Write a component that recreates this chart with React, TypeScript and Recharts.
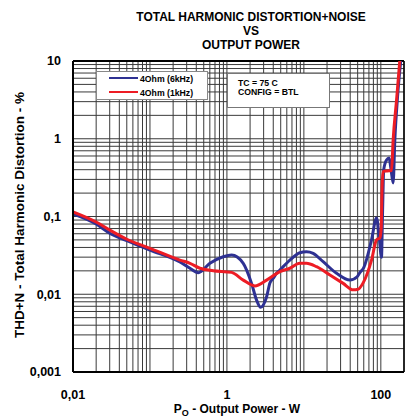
import React from 'react';
import { LineChart, Line, XAxis, YAxis, CartesianGrid, ReferenceLine } from 'recharts';

// Output power (W) / THD+N (%)
const bluePower = [0.01, 0.02, 0.03, 0.05, 0.1, 0.245, 0.331, 0.424, 0.601, 0.895, 1.15, 1.63, 2.09, 2.43, 2.74, 3.28, 3.62, 3.99, 4.42, 4.88, 6.58, 8.87, 10.8, 13.2, 17.8, 26.6, 39.6, 49.2, 53.4, 60, 75.7, 87.9, 95, 102, 105, 109, 118.6, 128, 135, 144.5, 152, 165, 182];
const blueThd = [0.108, 0.08, 0.061, 0.049, 0.037, 0.026, 0.0216, 0.0189, 0.025, 0.0304, 0.032, 0.025, 0.0138, 0.0084, 0.0068, 0.0093, 0.014, 0.016, 0.0186, 0.0205, 0.0275, 0.0342, 0.0352, 0.0336, 0.0262, 0.0186, 0.0152, 0.0168, 0.019, 0.022, 0.05, 0.096, 0.055, 0.03, 0.1, 0.4, 0.533, 0.565, 0.42, 0.27, 0.96, 3.5, 10.5];

const redPower = [0.01, 0.02, 0.03, 0.05, 0.1, 0.245, 0.331, 0.446, 0.664, 1.15, 1.63, 2.31, 3.28, 4.88, 6.58, 8.87, 10.8, 14.6, 21.8, 32.4, 43.7, 50.6, 58.9, 75.7, 87.9, 97, 101, 104, 107, 120, 137.7, 144.5, 160, 176.6];
const redThd = [0.115, 0.085, 0.067, 0.051, 0.039, 0.0275, 0.025, 0.0216, 0.0201, 0.0191, 0.0152, 0.0128, 0.0152, 0.0195, 0.0216, 0.025, 0.025, 0.0226, 0.0177, 0.0138, 0.0114, 0.0116, 0.014, 0.0275, 0.05, 0.053, 0.07, 0.25, 0.377, 0.385, 0.39, 0.96, 3.15, 10.3];

// grid / tick positions
const xTicks = [
  0.01, 0.02, 0.03, 0.04, 0.05, 0.06, 0.07, 0.08, 0.09,
  0.1, 0.2, 0.3, 0.4, 0.5, 0.6, 0.7, 0.8, 0.9,
  1, 2, 3, 4, 5, 6, 7, 8, 9,
  10, 20, 30, 40, 50, 60, 70, 80, 90,
  100, 200,
];
const yTicks = [
  0.001, 0.002, 0.003, 0.004, 0.005, 0.006, 0.007, 0.008, 0.009,
  0.01, 0.02, 0.03, 0.04, 0.05, 0.06, 0.07, 0.08, 0.09,
  0.1, 0.2, 0.3, 0.4, 0.5, 0.6, 0.7, 0.8, 0.9,
  1, 2, 3, 4, 5, 6, 7, 8, 9,
  10,
];
const xLabelValues = [0.01, 1, 100];
const xLabelTexts = ['0,01', '1', '100'];
const yLabelValues = [0.001, 0.01, 0.1, 1, 10];
const yLabelTexts = ['0,001', '0,01', '0,1', '1', '10'];

const blueData = bluePower.map((p, i) => ({ p, thd: blueThd[i] }));
const redData = redPower.map((p, i) => ({ p, thd: redThd[i] }));

const FONT = '"Liberation Sans", Arial, sans-serif';
const BLUE = '#2E3192';
const RED = '#ED1C24';

const fmtX = (v: number) => {
  const i = xLabelValues.indexOf(v);
  return i >= 0 ? xLabelTexts[i] : '';
};
const fmtY = (v: number) => {
  const i = yLabelValues.indexOf(v);
  return i >= 0 ? yLabelTexts[i] : '';
};

const abs = (style: React.CSSProperties): React.CSSProperties => ({
  position: 'absolute',
  fontFamily: FONT,
  fontWeight: 'bold',
  color: '#000',
  whiteSpace: 'nowrap',
  ...style,
});

export default function App() {
  return (
    <div style={{ position: 'absolute', left: 0, top: 0, width: 408, height: 417, background: '#fff', overflow: 'hidden' }}>
      <LineChart width={408} height={417} margin={{ top: 61, right: 4, bottom: 0, left: 0 }}>
        <CartesianGrid stroke="#3a3a3a" strokeWidth={1} />
        <XAxis
          dataKey="p"
          type="number"
          scale="log"
          domain={[0.01, 200]}
          allowDataOverflow
          ticks={xTicks}
          interval={0}
          tickFormatter={fmtX}
          tickLine={false}
          tickSize={0}
          tickMargin={18}
          height={45}
          axisLine={{ stroke: '#000', strokeWidth: 2 }}
          tick={{ fill: '#000', fontSize: 12.5, fontWeight: 'bold', fontFamily: FONT }}
        />
        <YAxis
          dataKey="thd"
          type="number"
          scale="log"
          domain={[0.001, 10]}
          allowDataOverflow
          ticks={yTicks}
          interval={0}
          tickFormatter={fmtY}
          tickLine={false}
          tickSize={0}
          tickMargin={12}
          width={73}
          axisLine={{ stroke: '#000', strokeWidth: 2 }}
          tick={{ fill: '#000', fontSize: 12.5, fontWeight: 'bold', fontFamily: FONT }}
        />
        <ReferenceLine y={10} stroke="#000" strokeWidth={2} />
        <ReferenceLine x={200} stroke="#000" strokeWidth={1.5} />
        <Line data={blueData} dataKey="thd" type="monotone" stroke={BLUE} strokeWidth={3} dot={false} isAnimationActive={false} />
        <Line data={redData} dataKey="thd" type="monotone" stroke={RED} strokeWidth={3} dot={false} isAnimationActive={false} />
      </LineChart>

      {/* title */}
      <div style={abs({ left: 251, top: 10, transform: 'translateX(-50%)', fontSize: 12, lineHeight: '14px', textAlign: 'center' })}>
        TOTAL HARMONIC DISTORTION+NOISE<br />VS<br />OUTPUT POWER
      </div>

      {/* axis titles */}
      <div style={abs({ left: 19, top: 215, transform: 'translate(-50%, -50%) rotate(-90deg)', fontSize: 13.5, lineHeight: '15px' })}>
        THD+N - Total Harmonic Distortion - %
      </div>
      <div style={abs({ left: 237, top: 402, transform: 'translateX(-50%)', fontSize: 12, lineHeight: '14px' })}>
        P<span style={{ fontSize: 9, position: 'relative', top: 3 }}>O</span> - Output Power - W
      </div>

      {/* legend */}
      <div style={{ position: 'absolute', left: 96, top: 71, width: 110, height: 27, border: '1px solid #888', background: '#fff' }} />
      <div style={{ position: 'absolute', left: 109, top: 77, width: 29, height: 2, background: BLUE }} />
      <div style={{ position: 'absolute', left: 109, top: 91, width: 29, height: 2, background: RED }} />
      <div style={abs({ left: 140, top: 74.5, fontSize: 8.7, lineHeight: 1 })}>4Ohm (6kHz)</div>
      <div style={abs({ left: 140, top: 88.7, fontSize: 8.7, lineHeight: 1 })}>4Ohm (1kHz)</div>

      {/* conditions box */}
      <div style={{ position: 'absolute', left: 227, top: 73, width: 101, height: 33, border: '1px solid #777', background: '#fff' }} />
      <div style={abs({ left: 238, top: 78.5, fontSize: 8.7, lineHeight: 1 })}>TC = 75 C</div>
      <div style={abs({ left: 238, top: 88, fontSize: 8.7, lineHeight: 1 })}>CONFIG = BTL</div>
    </div>
  );
}
